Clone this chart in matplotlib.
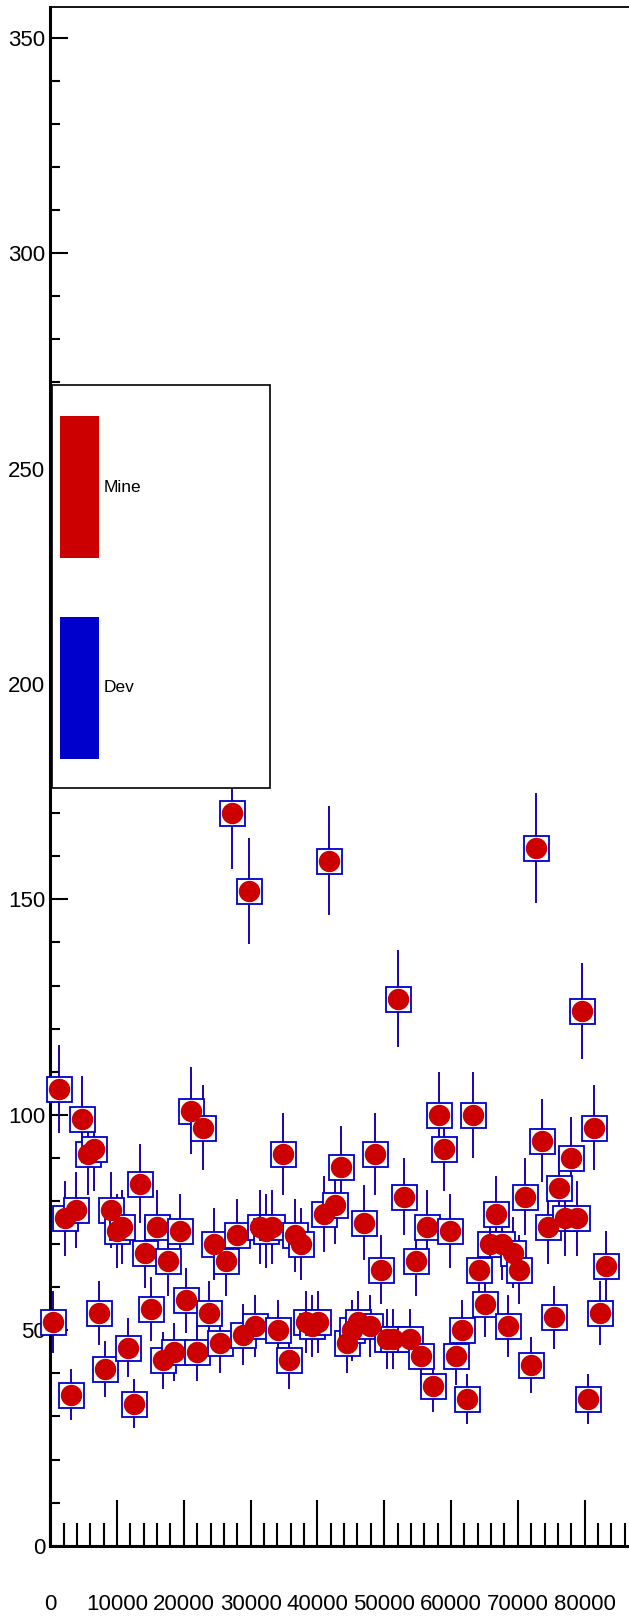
import numpy as np
import matplotlib
matplotlib.use("Agg")
import matplotlib.pyplot as plt
from matplotlib.ticker import MultipleLocator
from matplotlib.patches import Rectangle

plt.rcParams['font.family'] = ['Liberation Sans', 'DejaVu Sans']

# bin centres
x_vals = [470, 1330, 2190, 3050, 3910, 4770, 5640, 6500, 7360, 8220,
          9080, 9940, 10800, 11660, 12520, 13390, 14250, 15110, 15970, 16830,
          17690, 18550, 19410, 20270, 21130, 22000, 22860, 23720, 24580, 25440,
          26300, 27160, 28020, 28880, 29740, 30600, 31470, 32330, 33190, 34050,
          34910, 35770, 36630, 37490, 38350, 39220, 40080, 40940, 41800, 42660,
          43520, 44380, 45240, 46100, 46970, 47830, 48690, 49550, 50410, 51270,
          52130, 52990, 53850, 54710, 55570, 56440, 57300, 58160, 59020, 59880,
          60740, 61600, 62460, 63320, 64180, 65050, 65910, 66770, 67630, 68490,
          69350, 70210, 71070, 71930, 72790, 73660, 74520, 75380, 76240, 77100,
          77960, 78820, 79680, 80540, 81400, 82270, 83130]

mine_counts = [52, 106, 76, 35, 78, 99, 91, 92, 54, 41,
               78, 73, 74, 46, 33, 84, 68, 55, 74, 43,
               66, 45, 73, 57, 101, 45, 97, 54, 70, 47,
               66, 170, 72, 49, 152, 51, 74, 73, 74, 50,
               91, 43, 72, 70, 52, 51, 52, 77, 159, 79,
               88, 47, 50, 52, 75, 51, 91, 64, 48, 48,
               127, 81, 48, 66, 44, 74, 37, 100, 92, 73,
               44, 50, 34, 100, 64, 56, 70, 77, 70, 51,
               68, 64, 81, 42, 162, 94, 74, 53, 83, 76,
               90, 76, 124, 34, 97, 54, 65]
# Dev sits exactly on top of Mine in every bin
dev_counts = list(mine_counts)

legend_labels = ['Mine', 'Dev']
red = '#cc0000'
blue = '#0000cc'

x = np.array(x_vals)
mine = np.array(mine_counts, dtype=float)
dev = np.array(dev_counts, dtype=float)

W, H = 629, 1616
fig = plt.figure(figsize=(W / 100, H / 100), dpi=100)
ax = fig.add_axes([50.2 / W, 1 - 1545.7 / H, 1 - 50.2 / W, (1545.7 - 7) / H])

# Poisson errors, as the histograms carry them
ax.errorbar(x, mine, yerr=np.sqrt(mine), fmt='none', ecolor=red,
            elinewidth=1.2, capsize=0, zorder=2)
ax.errorbar(x, dev, yerr=np.sqrt(dev), fmt='none', ecolor=blue,
            elinewidth=1.2, capsize=0, zorder=3)
ax.plot(x, dev, 's', ms=18, mfc='white', mec=blue, mew=1.3, zorder=3,
        clip_on=False)
ax.plot(x, mine, 'o', ms=14.4, color=red, mec=red, zorder=4, clip_on=False)

ax.set_xlim(0, (W - 50.2) / 6.68 * 1000)
ax.set_ylim(0, (1545.7 - 7) / 4.3086)

ax.set_xticks(range(0, 90000, 10000))
ax.xaxis.set_minor_locator(MultipleLocator(2000))
ax.set_yticks(range(0, 400, 50))
ax.yaxis.set_minor_locator(MultipleLocator(10))

ax.tick_params(axis='x', which='major', direction='in', length=33, width=1.5,
               labelsize=16, pad=35)
ax.tick_params(axis='x', which='minor', direction='in', length=16.5, width=1.5)
ax.tick_params(axis='y', which='major', direction='in', length=13, width=1.5,
               labelsize=16, pad=3.5)
ax.tick_params(axis='y', which='minor', direction='in', length=7, width=1.5)

ax.spines['right'].set_visible(False)
ax.spines['left'].set_linewidth(2.2)
ax.spines['bottom'].set_linewidth(2.2)
ax.spines['top'].set_linewidth(1.3)

# legend box drawn in figure pixels
def fx(px):
    return px / W

def fy(py):
    return 1 - py / H

fig.patches.append(Rectangle((fx(51.7), fy(788)), fx(270) - fx(51.7),
                             fy(385) - fy(788), transform=fig.transFigure,
                             facecolor='white', edgecolor='black', lw=1.2,
                             zorder=10))
for lab, col, top, bot in zip(legend_labels, [red, blue], [416, 617], [558, 759]):
    fig.patches.append(Rectangle((fx(60), fy(bot)), fx(99) - fx(60),
                                 fy(top) - fy(bot), transform=fig.transFigure,
                                 facecolor=col, edgecolor='none', zorder=11))
    fig.text(fx(104), fy((top + bot) / 2), lab, fontsize=12.5, va='center',
             ha='left', zorder=12)

fig.savefig('out.png', dpi=100)
